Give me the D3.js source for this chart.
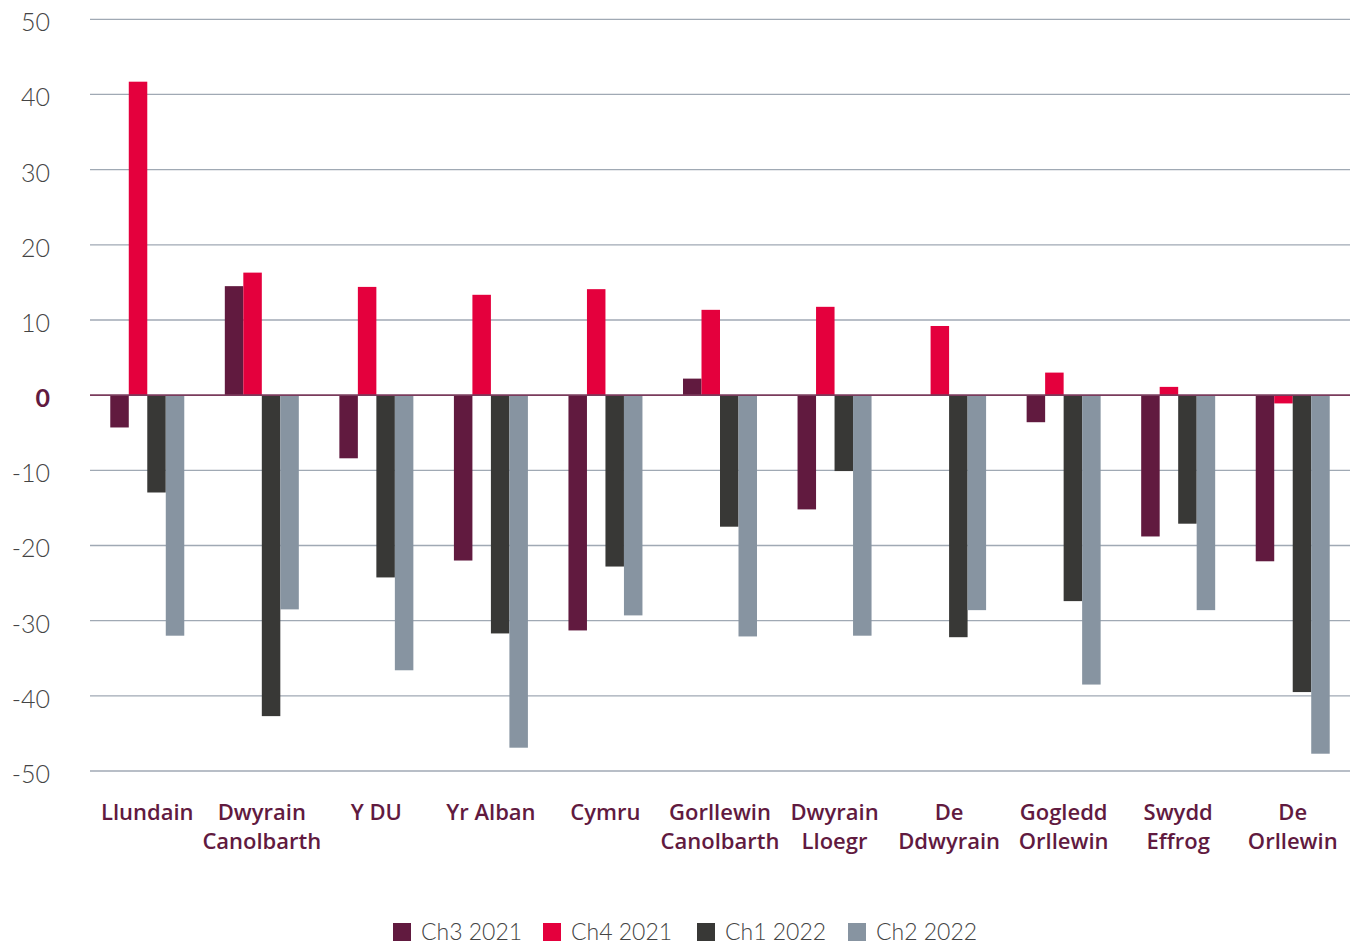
<!DOCTYPE html>
<html>
<head>
<meta charset="utf-8">
<script src="https://cdn.jsdelivr.net/npm/d3@7"></script>
<style>
  body { margin: 0; background: #fff; }
  svg { display: block; }
</style>
</head>
<body>
<svg id="chart" width="1356" height="944"></svg>
<script>
const regions = [
    ["Llundain"], ["Dwyrain", "Canolbarth"], ["Y DU"], ["Yr Alban"], ["Cymru"],
    ["Gorllewin", "Canolbarth"], ["Dwyrain", "Lloegr"], ["De", "Ddwyrain"],
    ["Gogledd", "Orllewin"], ["Swydd", "Effrog"], ["De", "Orllewin"]
];
const series = ["Ch3 2021", "Ch4 2021", "Ch1 2022", "Ch2 2022"];
const colors = ["#611a3f", "#e4003d", "#383836", "#8794a1"];

const ch3_2021 = [-4.3, 14.5, -8.4, -22.0, -31.3, 2.2, -15.2, 0, -3.6, -18.8, -22.1];
const ch4_2021 = [41.7, 16.3, 14.4, 13.35, 14.1, 11.35, 11.75, 9.2, 3.0, 1.1, -1.1];
const ch1_2022 = [-12.95, -42.7, -24.25, -31.7, -22.8, -17.5, -10.1, -32.2, -27.4, -17.1, -39.5];
const ch2_2022 = [-32.0, -28.5, -36.6, -46.9, -29.3, -32.1, -32.0, -28.6, -38.5, -28.6, -47.7];
const yTicks = [50, 40, 30, 20, 10, 0, -10, -20, -30, -40, -50];

const values = [ch3_2021, ch4_2021, ch1_2022, ch2_2022];
const rows = regions.map((r, i) => ({
    id: i,
    label: r,
    vals: series.map((s, j) => ({ series: j, value: values[j][i] }))
}));

const svg = d3.select("#chart");
const plotLeft = 90, plotRight = 1350, plotTop = 19.3, plotBottom = 771;

const x0 = d3.scaleBand()
    .domain(rows.map(d => d.id))
    .range([plotLeft, plotRight])
    .paddingInner(0.354)
    .paddingOuter(0.177);
const x1 = d3.scaleBand()
    .domain(d3.range(series.length))
    .range([0, x0.bandwidth()]);
const y = d3.scaleLinear().domain([-50, 50]).range([plotBottom, plotTop]);

// grid lines
svg.append("g")
    .selectAll("line")
    .data(yTicks.filter(t => t !== 0))
    .join("line")
    .attr("x1", plotLeft).attr("x2", plotRight)
    .attr("y1", d => y(d)).attr("y2", d => y(d))
    .attr("stroke", "#a0a9b4")
    .attr("stroke-width", 1.3);

// y tick labels
svg.append("g")
    .selectAll("text")
    .data(yTicks)
    .join("text")
    .attr("x", 50)
    .attr("y", d => y(d) + 3)
    .attr("dy", "0.36em")
    .attr("text-anchor", "end")
    .attr("font-family", "Lato, 'Open Sans', sans-serif")
    .attr("font-size", 25)
    .attr("font-weight", d => d === 0 ? 700 : 300)
    .attr("fill", d => d === 0 ? "#611a3f" : "#444")
    .text(d => d);

// bars
svg.append("g")
    .selectAll("g")
    .data(rows)
    .join("g")
    .attr("transform", d => `translate(${x0(d.id)},0)`)
    .selectAll("rect")
    .data(d => d.vals)
    .join("rect")
    .attr("x", d => x1(d.series))
    .attr("width", x1.bandwidth())
    .attr("y", d => y(Math.max(0, d.value)))
    .attr("height", d => Math.abs(y(d.value) - y(0)))
    .attr("fill", d => colors[d.series]);

// zero line
svg.append("line")
    .attr("x1", plotLeft).attr("x2", plotRight)
    .attr("y1", y(0)).attr("y2", y(0))
    .attr("stroke", "#7a3b5c")
    .attr("stroke-width", 1.8);

// category labels
const cat = svg.append("g")
    .selectAll("text")
    .data(rows)
    .join("text")
    .attr("x", d => x0(d.id) + x0.bandwidth() / 2)
    .attr("y", 820)
    .attr("text-anchor", "middle")
    .attr("font-family", "'Open Sans', Lato, sans-serif")
    .attr("font-size", 22)
    .attr("font-weight", 600)
    .attr("fill", "#611a3f");
cat.selectAll("tspan")
    .data(d => d.label)
    .join("tspan")
    .attr("x", function() { return d3.select(this.parentNode).attr("x"); })
    .attr("dy", (d, i) => i === 0 ? 0 : 29)
    .text(d => d);

// legend
const legendX = [393, 543, 697, 848];
const legend = svg.append("g")
    .selectAll("g")
    .data(series)
    .join("g")
    .attr("transform", (d, i) => `translate(${legendX[i]},923)`);
legend.append("rect")
    .attr("width", 18).attr("height", 18)
    .attr("fill", (d, i) => colors[i]);
legend.append("text")
    .attr("x", 28)
    .attr("y", 17)
    .attr("font-family", "Lato, 'Open Sans', sans-serif")
    .attr("font-size", 23)
    .attr("font-weight", 300)
    .attr("fill", "#444")
    .text(d => d);
</script>
</body>
</html>
